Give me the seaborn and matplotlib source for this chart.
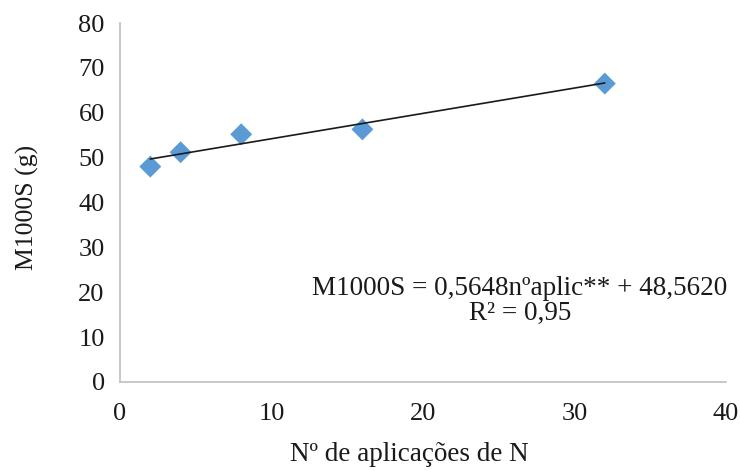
import matplotlib
matplotlib.use("Agg")
import matplotlib.pyplot as plt
import seaborn as sns
import numpy as np
import pandas as pd

# Data
n_aplic = [2, 4, 8, 16, 32]
m1000s = [48.0, 51.2, 55.2, 56.3, 66.5]

# Regression shown in chart
slope = 0.5648
intercept = 48.5620
trend_x = [2, 32]

x_ticks = [0, 10, 20, 30, 40]
y_ticks = [0, 10, 20, 30, 40, 50, 60, 70, 80]

sns.set_theme(style="white")
plt.rcParams['font.family'] = ['Liberation Serif', 'DejaVu Serif']

fig = plt.figure(figsize=(7.4, 4.71), dpi=100)
ax = fig.add_axes([120/740, 1-382/471, (726-120)/740, (382-23)/471])

df = pd.DataFrame({"x": n_aplic, "y": m1000s})
trend_df = pd.DataFrame({"x": trend_x, "y": [slope*v + intercept for v in trend_x]})

sns.lineplot(data=trend_df, x="x", y="y", ax=ax, color="#1a1a1a", linewidth=1.2, zorder=3)
sns.scatterplot(data=df, x="x", y="y", ax=ax, marker="D", s=125, color="#5B9BD5",
                edgecolor="none", linewidth=0, zorder=2)

ax.set_xlim(0, 40)
ax.set_ylim(0, 80)
ax.set_xticks(x_ticks)
ax.set_yticks(y_ticks)
ax.tick_params(axis='both', labelsize=19, colors='#BFBFBF', labelcolor='#1a1a1a',
               length=6, width=1, direction='out', pad=5)
ax.tick_params(axis='x', pad=9)
for side in ['top', 'right']:
    ax.spines[side].set_visible(False)
for side in ['left', 'bottom']:
    ax.spines[side].set_color('#BFBFBF')
    ax.spines[side].set_linewidth(1.2)

ax.set_xlabel("Nº de aplicações de N", fontsize=19.5, color='#1a1a1a')
ax.set_ylabel("M1000S (g)", fontsize=18.5, color='#1a1a1a')
ax.xaxis.set_label_coords(0.478, -0.203)
ax.xaxis.label.set_va('center')
ax.yaxis.set_label_coords(-0.152, 0.487)
ax.yaxis.label.set_va('center')

ax.text(0.660, 0.226, "M1000S = 0,5648nºaplic** + 48,5620\nR² = 0,95",
        transform=ax.transAxes, ha='center', va='center', fontsize=19.5,
        linespacing=1.0, color='#1a1a1a')

fig.savefig("out.png", dpi=100)
